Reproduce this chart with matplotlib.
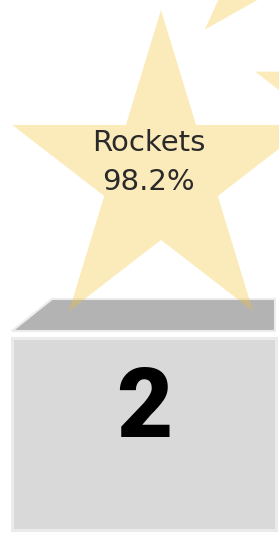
import matplotlib
matplotlib.use("Agg")
import matplotlib.pyplot as plt
from matplotlib.patches import Polygon
import numpy as np


# ==========================
# Data (visible part of the podium)
# ==========================
teams = ["Rockets"]
shares = [98.2]
ranks = [2]

# ==========================
# Layout (figure units: 1 unit = 100 px)
# ==========================
FIG_W, FIG_H = 2.79, 5.34
GROUND = 0.04
PODIUM_LEFT = 0.12
PODIUM_W = 2.64
PODIUM_H = {1: 2.39, 2: 1.92, 3: 1.45}
SLAB_GAP = 0.07      # gap between front face and the top slab
SLAB_H = 0.32
SLAB_DX = 0.40
STAR_R = 1.664
STAR_SQUASH = 0.94
STAR_DX = 0.17
STAR_DY = 1.616
STAR_COLOR = "#f8c32a"
STAR_ALPHA = 0.32


def star_xy(cx, cy, r, rot=0.0, squash=STAR_SQUASH, inner=0.382):
    ang = np.deg2rad(90 + rot + np.arange(10) * 36)
    rad = np.where(np.arange(10) % 2 == 0, r, r * inner)
    return np.column_stack([cx + squash * rad * np.cos(ang), cy + rad * np.sin(ang)])


fig = plt.figure(figsize=(FIG_W, FIG_H), dpi=100)
ax = fig.add_axes([0, 0, 1, 1])
ax.set_xlim(0, FIG_W)
ax.set_ylim(0, FIG_H)
ax.axis("off")

for i, (team, share, rank) in enumerate(zip(teams, shares, ranks)):
    left = PODIUM_LEFT + i * PODIUM_W
    center = left + PODIUM_W / 2
    h = PODIUM_H[rank]
    top = GROUND + h

    # front face
    ax.bar(center, h, bottom=GROUND, width=PODIUM_W, color="#d9d9d9",
           edgecolor="#ebebeb", linewidth=2.2, zorder=2)

    # top slab (3d look)
    y0 = top + SLAB_GAP
    slab = Polygon([(left, y0), (left + SLAB_DX, y0 + SLAB_H),
                    (left + PODIUM_W - 0.01, y0 + SLAB_H), (left + PODIUM_W - 0.01, y0)],
                   closed=True, facecolor="#b3b3b3", edgecolor="#ececec",
                   linewidth=1.5, zorder=2)
    ax.add_patch(slab)

    ax.text(center + 0.005, GROUND + h * 0.485, str(rank), ha="center", va="baseline",
            fontsize=70, fontweight="black", family=["Roboto", "DejaVu Sans"],
            color="black", zorder=4)

    # star with label
    scx, scy = center + STAR_DX, top + STAR_DY
    ax.add_patch(Polygon(star_xy(scx, scy, STAR_R), closed=True,
                         facecolor=STAR_COLOR, alpha=STAR_ALPHA, linewidth=0, zorder=3))
    ax.text(center + 0.045, scy + 0.255, team, ha="center", va="baseline",
            fontsize=21, family="DejaVu Sans", color="#2a2a2a", zorder=5)
    ax.text(center + 0.045, scy - 0.135, f"{share}%", ha="center", va="baseline",
            fontsize=21, family="DejaVu Sans", color="#2a2a2a", zorder=5)

    # neighbouring winners' stars peeking in from the right
    for dx, dy, r, rot in [(2.64, 0.46, 1.90, 0.0), (1.52, 2.66, 1.66, -8.0)]:
        ax.add_patch(Polygon(star_xy(scx + dx, scy + dy, r, rot), closed=True,
                             facecolor=STAR_COLOR, alpha=STAR_ALPHA, linewidth=0, zorder=3))

fig.savefig("out.png", dpi=100)
